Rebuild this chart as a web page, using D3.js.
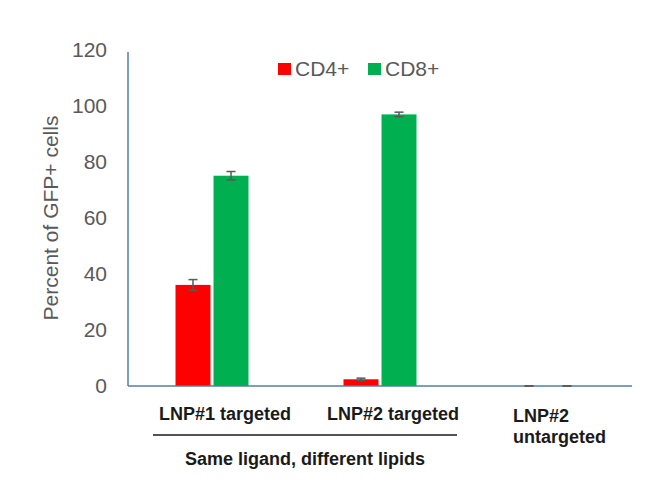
<!DOCTYPE html>
<html>
<head>
<meta charset="utf-8">
<script src="https://cdn.jsdelivr.net/npm/d3@7"></script>
<style>
  body { margin: 0; background: #fff; }
  svg { display: block; font-family: "Liberation Sans", Arial, sans-serif; }
</style>
</head>
<body>
<div id="chart"></div>
<script>
// chart data
const categories = ['LNP#1 targeted', 'LNP#2 targeted', 'LNP#2 untargeted'];
const series = ['CD4+', 'CD8+'];
const cd4Values = [36.1, 2.4, 0];
const cd4Errors = [1.9, 0.4, 0];
const cd8Values = [75.1, 97.0, 0];
const cd8Errors = [1.5, 0.8, 0];
const yTicks = [0, 20, 40, 60, 80, 100, 120];
const colors = { 'CD4+': '#ff0000', 'CD8+': '#00b050' };

const width = 658, height = 494;
const margin = { top: 50, right: 26, bottom: 108, left: 128 };

const svg = d3.select('#chart')
  .append('svg')
  .attr('width', width)
  .attr('height', height);

const x0 = d3.scaleBand()
  .domain(categories)
  .range([margin.left, width - margin.right]);

const y = d3.scaleLinear()
  .domain([0, 120])
  .range([height - margin.bottom, margin.top]);

// one row per category/series pair
const rows = [];
categories.forEach((c, i) => {
  rows.push({ cat: c, key: 'CD4+', value: cd4Values[i], err: cd4Errors[i] });
  rows.push({ cat: c, key: 'CD8+', value: cd8Values[i], err: cd8Errors[i] });
});

const groupWidth = 73;
const x1 = d3.scaleBand()
  .domain(series)
  .range([x0.bandwidth() / 2 - groupWidth / 2, x0.bandwidth() / 2 + groupWidth / 2])
  .paddingInner(0.08);

const axisColor = '#4f81a4';
const textGray = '#595959';

// y axis (labels only + line)
const yAxis = svg.append('g')
  .attr('transform', `translate(${margin.left - 21},0)`)
  .call(d3.axisLeft(y).tickValues(yTicks).tickSize(0).tickPadding(0));
yAxis.select('.domain').remove();
yAxis.selectAll('text')
  .attr('fill', textGray)
  .style('font-size', '21px')
  .style('font-family', '"Liberation Sans", Arial, sans-serif');

svg.append('line')
  .attr('x1', margin.left).attr('x2', margin.left)
  .attr('y1', y(120) + 2).attr('y2', y(0))
  .attr('stroke', axisColor).attr('stroke-width', 1.5);

// bars
const bx = d => x0(d.cat) + x1(d.key);
svg.append('g')
  .selectAll('rect')
  .data(rows)
  .enter()
  .append('rect')
  .attr('x', bx)
  .attr('y', d => y(d.value))
  .attr('width', x1.bandwidth())
  .attr('height', d => y(0) - y(d.value))
  .attr('fill', d => colors[d.key]);

// x axis line
svg.append('line')
  .attr('x1', margin.left).attr('x2', width - margin.right)
  .attr('y1', y(0)).attr('y2', y(0))
  .attr('stroke', axisColor).attr('stroke-width', 1.5);

// error bars
const eb = svg.append('g').attr('stroke', textGray).attr('stroke-width', 1.5);
rows.forEach(d => {
  const cx = bx(d) + x1.bandwidth() / 2;
  const hi = y(d.value + d.err), lo = y(d.value - d.err);
  eb.append('line').attr('x1', cx).attr('x2', cx).attr('y1', hi).attr('y2', lo);
  eb.append('line').attr('x1', cx - 4.5).attr('x2', cx + 4.5).attr('y1', hi).attr('y2', hi);
  eb.append('line').attr('x1', cx - 4.5).attr('x2', cx + 4.5).attr('y1', lo).attr('y2', lo);
});

// y axis title
svg.append('text')
  .attr('transform', `translate(58,${(y(0) + y(120)) / 2}) rotate(-90)`)
  .attr('text-anchor', 'middle')
  .attr('fill', textGray)
  .style('font-size', '21px')
  .text('Percent of GFP+ cells');

// category labels
const labelY = y(0) + 34;
categories.forEach((c, i) => {
  const cx = x0(c) + x0.bandwidth() / 2;
  if (i < 2) {
    svg.append('text')
      .attr('x', cx + 13).attr('y', labelY)
      .attr('text-anchor', 'middle')
      .attr('fill', '#1a1a1a')
      .style('font-size', '18px').style('font-weight', 'bold')
      .text(c);
  } else {
    const parts = ['LNP#2', 'untargeted'];
    parts.forEach((p, j) => {
      svg.append('text')
        .attr('x', cx - 35).attr('y', labelY + 2 + j * 21)
        .attr('fill', '#1a1a1a')
        .style('font-size', '18px').style('font-weight', 'bold')
        .text(p);
    });
  }
});

// bracket for the first two groups
const bx1 = x0(categories[0]) + 25;
const bx2 = x0(categories[1]) + x0.bandwidth() - 7;
svg.append('line')
  .attr('x1', bx1).attr('x2', bx2)
  .attr('y1', y(0) + 49).attr('y2', y(0) + 49)
  .attr('stroke', '#1a1a1a').attr('stroke-width', 1.5);
svg.append('text')
  .attr('x', (bx1 + bx2) / 2).attr('y', y(0) + 79)
  .attr('text-anchor', 'middle')
  .attr('fill', '#1a1a1a')
  .style('font-size', '18px').style('font-weight', 'bold')
  .text('Same ligand, different lipids');

// legend
const legend = svg.append('g').attr('transform', 'translate(278,63)');
const legendX = d3.scaleOrdinal().domain(series).range([0, 90]);
series.forEach(s => {
  const g = legend.append('g').attr('transform', `translate(${legendX(s)},0)`);
  g.append('rect').attr('width', 13).attr('height', 12).attr('fill', colors[s]);
  g.append('text')
    .attr('x', 17).attr('y', 13)
    .attr('fill', textGray)
    .style('font-size', '21px')
    .text(s);
});
</script>
</body>
</html>
